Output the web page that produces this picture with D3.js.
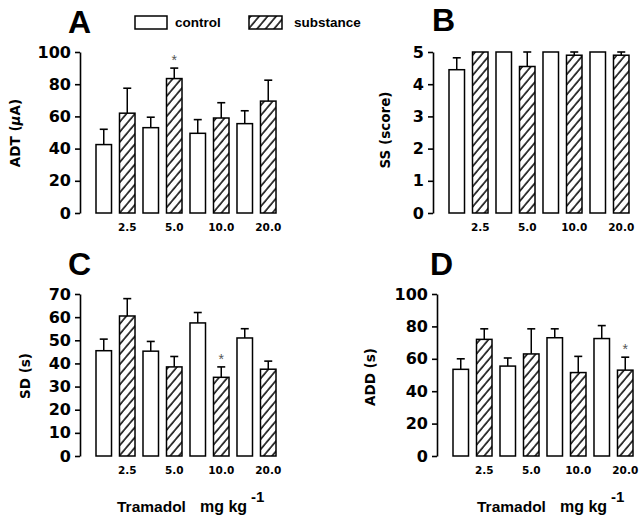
<!DOCTYPE html>
<html><head><meta charset="utf-8">
<script src="https://cdn.jsdelivr.net/npm/d3@7"></script>
<style>
html,body{margin:0;padding:0;background:#fff;}
text{font-family:"Liberation Sans",Arial,Helvetica,sans-serif;}
</style></head>
<body>
<svg id="chart" width="640" height="520"></svg>
<script>
// ---------- data ----------
const doses = ["2.5", "5.0", "10.0", "20.0"];
const seriesNames = ["control", "substance"];

const adtControl = [42.5, 53, 49.5, 55.5];
const adtControlErr = [9.5, 6.5, 8.5, 8];
const adtSubstance = [62, 83.5, 59, 69.5];
const adtSubstanceErr = [15.5, 6.5, 9.5, 13];

const ssControl = [4.45, 5, 5, 5];
const ssControlErr = [0.37, 0, 0, 0];
const ssSubstance = [5, 4.55, 4.9, 4.9];
const ssSubstanceErr = [0, 0.45, 0.1, 0.1];

const sdControl = [45.5, 45.3, 57.5, 51];
const sdControlErr = [5, 4.2, 4.5, 4];
const sdSubstance = [60.5, 38.5, 34, 37.5];
const sdSubstanceErr = [7.5, 4.5, 4.5, 3.5];

const addControl = [53.5, 55.5, 73, 72.5];
const addControlErr = [6.5, 5, 5.5, 8];
const addSubstance = [72, 63, 51.5, 53];
const addSubstanceErr = [6.5, 15.5, 10, 8];

const adtTicks = [0, 20, 40, 60, 80, 100];
const ssTicks = [0, 1, 2, 3, 4, 5];
const sdTicks = [0, 10, 20, 30, 40, 50, 60, 70];
const addTicks = [0, 20, 40, 60, 80, 100];

const adtStars = [1];
const ssStars = [];
const sdStars = [2];
const addStars = [3];

// ---------- layout ----------
const svg = d3.select("#chart");
const defs = svg.append("defs");
const pat = defs.append("pattern").attr("id", "hatch")
  .attr("patternUnits", "userSpaceOnUse").attr("width", 6.5).attr("height", 6.5)
  .attr("patternTransform", "rotate(40)");
pat.append("rect").attr("width", 6.5).attr("height", 6.5).attr("fill", "#fff");
pat.append("line").attr("x1", 1).attr("y1", 0).attr("x2", 1).attr("y2", 6.5)
  .attr("stroke", "#000").attr("stroke-width", 1.5);

const panels = [
  {letter: "A", lx: 68, ly: 33, ax: 80, y0: 213, yTop: 52, max: 100, ticks: adtTicks,
   ctrl: adtControl, ctrlErr: adtControlErr, sub: adtSubstance, subErr: adtSubstanceErr,
   stars: adtStars, title: "ADT", titleX: 20, titleY: 133, mu: true, xlab: false},
  {letter: "B", lx: 432, ly: 31, ax: 433, y0: 213, yTop: 52, max: 5, ticks: ssTicks,
   ctrl: ssControl, ctrlErr: ssControlErr, sub: ssSubstance, subErr: ssSubstanceErr,
   stars: ssStars, title: "SS (score)", titleX: 390, titleY: 130, xlab: false},
  {letter: "C", lx: 68, ly: 275, ax: 80, y0: 456, yTop: 294, max: 70, ticks: sdTicks,
   ctrl: sdControl, ctrlErr: sdControlErr, sub: sdSubstance, subErr: sdSubstanceErr,
   stars: sdStars, title: "SD (s)", titleX: 30, titleY: 376, xlab: true, xlabX: 117},
  {letter: "D", lx: 430, ly: 275, ax: 437, y0: 456, yTop: 294, max: 100, ticks: addTicks,
   ctrl: addControl, ctrlErr: addControlErr, sub: addSubstance, subErr: addSubstanceErr,
   stars: addStars, title: "ADD (s)", titleX: 375, titleY: 377, xlab: true, xlabX: 477}
];

const wide = "'DejaVu Sans',Verdana,sans-serif";

panels.forEach(p => {
  const g = svg.append("g");
  const y = d3.scaleLinear().domain([0, p.max]).range([p.y0, p.yTop]);
  const slots = d3.range(8);
  const x = d3.scaleBand().domain(slots).range([p.ax + 16, p.ax + 196]).paddingInner(0.34).paddingOuter(0);

  // y axis
  const axis = g.append("g").attr("transform", `translate(${p.ax},0)`)
    .call(d3.axisLeft(y).tickValues(p.ticks).tickFormat(d3.format("d")).tickSize(5).tickSizeOuter(0).tickPadding(4));
  axis.select(".domain").attr("stroke", "#000").attr("stroke-width", 1.6);
  axis.selectAll(".tick line").attr("stroke", "#000").attr("stroke-width", 1.6);
  axis.selectAll(".tick text").attr("fill", "#000")
    .style("font-family", wide)
    .style("font-size", "16px").style("font-weight", "bold");

  // bars
  const bars = [];
  doses.forEach((d, i) => {
    bars.push({slot: 2 * i, v: p.ctrl[i], e: p.ctrlErr[i], s: 0, i});
    bars.push({slot: 2 * i + 1, v: p.sub[i], e: p.subErr[i], s: 1, i});
  });
  const bw = x.bandwidth();
  // error bars
  bars.filter(b => b.e > 0).forEach(b => {
    const cx = x(b.slot) + bw / 2;
    g.append("line").attr("x1", cx).attr("x2", cx).attr("y1", y(b.v)).attr("y2", y(b.v + b.e))
      .attr("stroke", "#000").attr("stroke-width", 1.5);
    g.append("line").attr("x1", cx - 4).attr("x2", cx + 4).attr("y1", y(b.v + b.e)).attr("y2", y(b.v + b.e))
      .attr("stroke", "#000").attr("stroke-width", 1.6);
  });
  g.selectAll("rect.bar").data(bars).enter().append("rect").attr("class", "bar")
    .attr("x", b => x(b.slot)).attr("width", bw)
    .attr("y", b => y(b.v)).attr("height", b => y(0) - y(b.v))
    .attr("fill", b => b.s ? "url(#hatch)" : "#fff")
    .attr("stroke", "#000").attr("stroke-width", 1.5);

  // stars
  p.stars.forEach(i => {
    const b = bars[2 * i + 1];
    g.append("text").attr("x", x(b.slot) + bw / 2).attr("y", y(b.v + b.e) - 3)
      .attr("text-anchor", "middle").attr("fill", "#555")
      .style("font-size", "14px").text("*");
  });

  // x tick labels under substance bars
  doses.forEach((d, i) => {
    g.append("text").attr("x", x(2 * i + 1) + bw / 2).attr("y", p.y0 + 18)
      .attr("text-anchor", "middle").style("font-family", wide)
      .style("font-size", "10.5px").style("font-weight", "bold")
      .text(d);
  });

  // panel letter
  g.append("text").attr("x", p.lx).attr("y", p.ly).style("font-size", "32px")
    .style("font-weight", "bold").text(p.letter);

  // y title
  const t = g.append("text").attr("transform", `translate(${p.titleX},${p.titleY}) rotate(-90)`)
    .attr("text-anchor", "middle").style("font-family", wide)
    .style("font-size", "13.5px").style("font-weight", "bold");
  if (p.mu) {
    t.append("tspan").text("ADT (");
    t.append("tspan").style("font-style", "italic").text("\u03bc");
    t.append("tspan").text("A)");
  } else {
    t.text(p.title);
  }

  // x title
  if (p.xlab) {
    g.append("text").attr("x", p.xlabX).attr("y", 512)
      .style("font-size", "15.5px").style("font-weight", "bold").text("Tramadol");
    g.append("text").attr("x", p.xlabX + 83).attr("y", 512)
      .style("font-size", "16px").style("font-weight", "bold").text("mg kg");
    g.append("text").attr("x", p.xlabX + 134).attr("y", 502)
      .style("font-size", "15px").style("font-weight", "bold").text("-1");
  }
});

// legend
const lg = svg.append("g");
lg.append("rect").attr("x", 135).attr("y", 16).attr("width", 32).attr("height", 13)
  .attr("fill", "#fff").attr("stroke", "#000").attr("stroke-width", 1.5);
lg.append("text").attr("x", 175).attr("y", 27).style("font-size", "13.5px").style("font-weight", "bold").text(seriesNames[0]);
lg.append("rect").attr("x", 249).attr("y", 16).attr("width", 33).attr("height", 13)
  .attr("fill", "url(#hatch)").attr("stroke", "#000").attr("stroke-width", 1.5);
lg.append("text").attr("x", 294).attr("y", 27).style("font-size", "13.5px").style("font-weight", "bold").text(seriesNames[1]);
</script>
</body></html>
